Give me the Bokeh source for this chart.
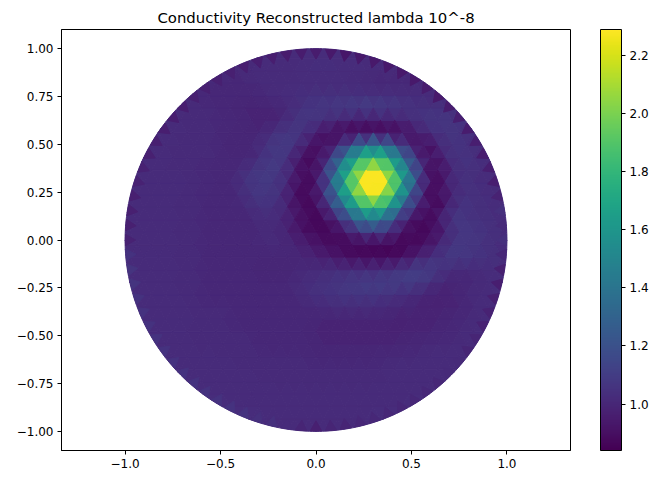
import math
from bokeh.embed import file_html
from bokeh.resources import INLINE
from bokeh.plotting import figure
from bokeh.models import ColumnDataSource, LinearColorMapper, ColorBar, FixedTicker, Range1d
from bokeh.palettes import Viridis256

TITLE = "Conductivity Reconstructed lambda 10^-8"
x_ticks = [-1.0, -0.5, 0.0, 0.5, 1.0]
x_labels = ["\u22121.0", "\u22120.5", "0.0", "0.5", "1.0"]
y_ticks = [-1.0, -0.75, -0.5, -0.25, 0.0, 0.25, 0.5, 0.75, 1.0]
y_labels = ["\u22121.00", "\u22120.75", "\u22120.50", "\u22120.25", "0.00", "0.25", "0.50", "0.75", "1.00"]
cb_ticks = [1.0, 1.2, 1.4, 1.6, 1.8, 2.0, 2.2]
cb_labels = ["1.0", "1.2", "1.4", "1.6", "1.8", "2.0", "2.2"]
cb_low, cb_high = 0.84, 2.29

# Conductivity at the mesh nodes, in hundredths, top row first
node_rows = [
 [101,101,101,101,102,102,102,101,101,101],
 [101,101,101,101,102,102,102,103,103,102,102,102,101,101,101],
 [101,101,101,101,102,102,102,102,103,103,103,103,102,102,102,101,101,101],
 [101,101,101,100,100,101,102,102,102,102,102,102,101,100,100,100,101,101,101],
 [101,101,101,100,100,100,100,101,102,103,104,104,104,104,104,104,103,102,102,102,102,101],
 [102,102,101,101,101,100,99,98,99,101,104,107,108,109,110,110,109,107,105,104,104,102,102],
 [102,102,102,101,101,100,100,99,98,99,105,108,103,100,96,95,96,97,101,106,107,106,104,102],
 [102,102,102,101,101,101,100,99,99,104,108,105,96,90,87,87,86,87,89,95,103,106,105,103,102],
 [102,102,102,101,101,101,100,99,100,105,109,106,95,88,99,122,140,140,118,99,87,99,106,104,102,102],
 [102,102,102,101,101,101,101,100,99,102,109,105,90,87,108,140,172,185,172,136,108,88,101,106,104,102,102],
 [102,102,102,102,101,101,100,100,101,106,109,106,96,87,102,140,185,215,215,183,132,102,86,100,105,103,102,102],
 [102,102,102,102,102,101,101,100,105,108,107,101,87,92,122,172,215,255,215,170,120,86,98,104,103,102,102],
 [102,102,102,102,101,101,100,100,101,105,107,104,91,87,102,138,185,215,213,180,125,98,85,99,105,104,102,102],
 [102,102,102,102,102,101,101,100,100,101,105,104,98,88,88,108,136,170,185,168,128,102,86,96,106,104,103,102,102],
 [102,102,102,102,101,101,100,100,100,100,102,101,95,88,86,99,120,138,135,112,92,86,94,107,106,104,103,102],
 [102,102,102,102,102,101,101,100,100,100,101,101,98,91,88,87,92,105,108,105,92,87,88,97,107,107,105,103,102],
 [102,102,102,102,101,101,100,100,100,100,101,101,99,96,90,88,86,86,85,85,86,90,99,107,107,105,103,102],
 [102,102,102,102,102,101,101,100,100,100,100,100,100,99,98,95,90,89,88,88,90,97,103,107,108,106,104,103,102],
 [102,102,102,102,101,101,100,100,100,100,99,99,100,101,102,103,103,102,102,105,109,111,107,102,101,102,103,102],
 [102,102,102,102,102,101,101,100,100,100,100,100,100,102,104,105,107,109,110,110,110,110,104,99,99,100,102,103,102],
 [102,102,102,102,101,101,100,100,100,100,100,100,101,103,105,106,107,107,106,104,102,99,98,99,101,102,102,102],
 [102,102,102,102,102,101,101,101,100,100,100,100,100,101,102,102,102,102,101,100,99,98,98,99,101,102,102],
 [102,102,102,102,101,101,101,100,100,100,100,100,100,99,99,99,99,99,98,98,98,99,100,101,102,102],
 [102,102,102,102,102,101,101,101,101,100,100,100,100,99,98,98,98,98,98,98,99,99,100,101,102,102,102],
 [102,102,102,102,101,101,101,101,101,100,100,100,100,99,99,99,99,99,99,100,100,101,101,102,102,102],
 [102,102,102,102,102,102,101,101,101,101,101,101,100,100,100,100,100,101,101,101,102,102,102,102,102],
 [102,102,102,102,102,102,101,101,101,101,101,101,101,101,101,101,102,102,102,102,102,102],
 [102,102,102,102,102,102,102,101,101,101,101,101,101,101,101,102,102,102,102,102,102],
 [103,102,102,102,102,102,102,102,102,102,102,102,102,102,102,102,102,102,102,103],
 [103,103,102,102,102,102,102,102,102,102,102,102,102,102,102,103,103],
 [103,103,103,102,102,102,102,102,102,102,102,103,103,103],
 [102,102,102,102,102,102,102,102,102,102,102],
]

# Rim elements, counter-clockwise from the +x direction, in hundredths
rim_values = [
 104,101,104,98,96,96,95,96,95,96,95,94,95,94,94,94,94,94,93,94,
 95,95,95,96,96,96,97,97,97,97,96,96,96,97,97,98,98,97,97,97,
 98,105,106,106,105,105,105,105,105,105,105,105,105,105,105,105,104,104,102,99,
 97,99,99,100,100,100,100,100,100,100,101,101,99,99,98,98,97,96,97,100,
]

H, V, Y_TOP = 0.075, 0.065, 1.015
nodes = {}
for j, row in enumerate(node_rows):
    row = list(row)
    if (len(row) % 2 == 1) != (j % 2 == 1):
        row = row[:-1]
    n = len(row)
    for i, val in enumerate(row):
        k = 2 * i - (n - 1)
        nodes[(k, j)] = (k * H / 2, Y_TOP - j * V, val / 100)

CIRCLE = [(math.cos(2 * math.pi * a / 360), math.sin(2 * math.pi * a / 360)) for a in range(360)]

def clip(poly):
    if all(x * x + y * y < 0.98 for x, y in poly):
        return poly
    out = poly
    for a, b in zip(CIRCLE, CIRCLE[1:] + CIRCLE[:1]):
        if not out:
            break
        ex, ey = b[0] - a[0], b[1] - a[1]
        side = lambda p: ex * (p[1] - a[1]) - ey * (p[0] - a[0])
        res = []
        for s, e in zip(out, out[1:] + out[:1]):
            ss, se = side(s), side(e)
            if ss >= 0:
                res.append(s)
            if (ss >= 0) != (se >= 0):
                t = ss / (ss - se)
                res.append((s[0] + t * (e[0] - s[0]), s[1] + t * (e[1] - s[1])))
        out = res
    return out

xs, ys, vs = [], [], []
def add(keys):
    if all(q in nodes for q in keys):
        pts = [nodes[q] for q in keys]
        poly = clip([(p[0], p[1]) for p in pts])
        if len(poly) >= 3:
            xs.append([p[0] for p in poly])
            ys.append([p[1] for p in poly])
            vs.append(sum(p[2] for p in pts) / 3)

for (k, j) in list(nodes):
    add([(k, j), (k + 2, j), (k + 1, j + 1)])
    add([(k, j), (k + 2, j), (k + 1, j - 1)])

N = len(rim_values)
for i, val in enumerate(rim_values):
    th = 2 * math.pi * i / N
    d = 2 * math.pi / N * 0.38
    xs.append([0.998 * math.cos(th - d), 0.998 * math.cos(th), 0.998 * math.cos(th + d), 0.945 * math.cos(th)])
    ys.append([0.998 * math.sin(th - d), 0.998 * math.sin(th), 0.998 * math.sin(th + d), 0.945 * math.sin(th)])
    vs.append(val / 100)

mapper = LinearColorMapper(palette=Viridis256, low=cb_low, high=cb_high)
src = ColumnDataSource(dict(xs=xs, ys=ys, v=vs))

FONT = "DejaVu Sans"
p = figure(width=651, height=475, output_backend="svg", toolbar_location=None,
           x_range=Range1d(-1.333, 1.333), y_range=Range1d(-1.1, 1.1),
           min_border_left=61, min_border_top=29, min_border_bottom=25, min_border_right=46)
p.patches("xs", "ys", source=src,
          fill_color={"field": "v", "transform": mapper},
          line_color={"field": "v", "transform": mapper}, line_width=1)

p.title.text = TITLE
p.title.align = "center"
p.title.text_font = FONT
p.title.text_font_size = "14.9px"
p.title.text_font_style = "normal"
p.title.text_color = "#000000"
p.title.offset = 0
p.title.standoff = 5

p.grid.visible = False
p.outline_line_color = "#000000"
p.outline_line_width = 1
for ax, ticks, labels in ((p.xaxis[0], x_ticks, x_labels), (p.yaxis[0], y_ticks, y_labels)):
    ax.ticker = FixedTicker(ticks=ticks)
    ax.major_label_overrides = dict(zip(ticks, labels))
    ax.major_label_text_font = FONT
    ax.major_label_text_font_size = "12px"
    ax.major_label_text_color = "#000000"
    ax.major_tick_in = 0
    ax.major_tick_out = 4
    ax.minor_tick_line_color = None
    ax.major_tick_line_color = "#000000"
    ax.axis_line_color = "#000000"
p.yaxis[0].major_label_standoff = 4
p.xaxis[0].major_label_standoff = 4

cb = ColorBar(color_mapper=mapper, width=21, height=421, margin=0, padding=0, location=(30, 0),
              ticker=FixedTicker(ticks=cb_ticks),
              major_label_overrides=dict(zip(cb_ticks, cb_labels)),
              major_label_text_font=FONT, major_label_text_font_size="12px",
              major_label_text_color="#000000",
              major_tick_in=0, major_tick_out=4, major_tick_line_color="#000000",
              minor_tick_line_color=None, bar_line_color="#000000", border_line_color=None,
              label_standoff=4, background_fill_color=None)
p.add_layout(cb, "right")

open("out.html", "w").write(file_html(p, INLINE))
